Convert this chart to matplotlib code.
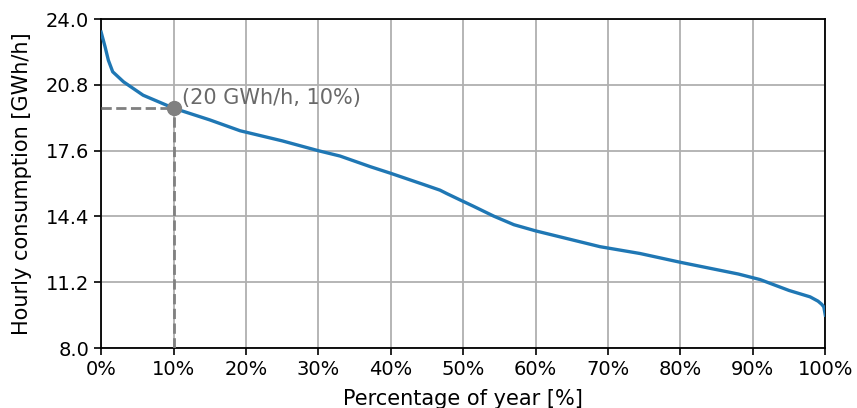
import numpy as np
import matplotlib
matplotlib.use("Agg")
import matplotlib.pyplot as plt
from matplotlib.ticker import FuncFormatter

# load duration curve
pct_year = [0, 0.55, 1.0, 1.6, 3.1, 5.8, 10, 15, 19.2, 25, 30, 33, 37.2, 40,
            44.5, 46.8, 47.7, 49.6, 51.4, 54.2, 57, 60, 65.2, 68.9, 74.4, 80,
            88, 91, 95, 97.9, 99, 99.5, 99.8, 100]
consumption = [23.37, 22.65, 22.0, 21.44, 20.95, 20.3, 19.67, 19.1, 18.57,
               18.08, 17.6, 17.34, 16.82, 16.5, 15.96, 15.68, 15.52, 15.2,
               14.9, 14.42, 14.0, 13.7, 13.25, 12.93, 12.6, 12.17, 11.6,
               11.33, 10.8, 10.49, 10.28, 10.13, 10.0, 9.6]

point_x = 10
point_y = 19.67
point_label = "(20 GWh/h, 10%)"

y_ticks = np.linspace(8, 24, 6)
x_ticks = np.arange(0, 101, 10)

fig = plt.figure(figsize=(8.57, 4.08), dpi=100)
ax = fig.add_axes([0.118, 0.147, 0.845, 0.806])

ax.plot(pct_year, consumption, color="#1f77b4", lw=2.4, zorder=3)
ax.plot([0, point_x], [point_y, point_y], ls="--", color="gray", lw=2, zorder=4)
ax.plot([point_x, point_x], [8, point_y], ls="--", color="gray", lw=2, zorder=4)
ax.plot(point_x, point_y, "o", color="gray", ms=10, zorder=5)
ax.text(point_x + 1.1, point_y + 0.5, point_label, color="dimgray",
        fontsize=15, va="center", ha="left")

ax.set_xlim(0, 100)
ax.set_ylim(8, 24)
ax.set_xticks(x_ticks)
ax.set_yticks(y_ticks)
ax.xaxis.set_major_formatter(FuncFormatter(lambda v, p: f"{v:.0f}%"))
ax.yaxis.set_major_formatter(FuncFormatter(lambda v, p: f"{v:.1f}"))
ax.tick_params(labelsize=14, length=5, width=1.2)
ax.grid(True, color="#b0b0b0", lw=1.3)
for s in ax.spines.values():
    s.set_linewidth(1.3)

ax.set_xlabel("Percentage of year [%]", fontsize=15, labelpad=7)
ax.set_ylabel("Hourly consumption [GWh/h]", fontsize=15, labelpad=10)

fig.savefig("out.png", dpi=100)
